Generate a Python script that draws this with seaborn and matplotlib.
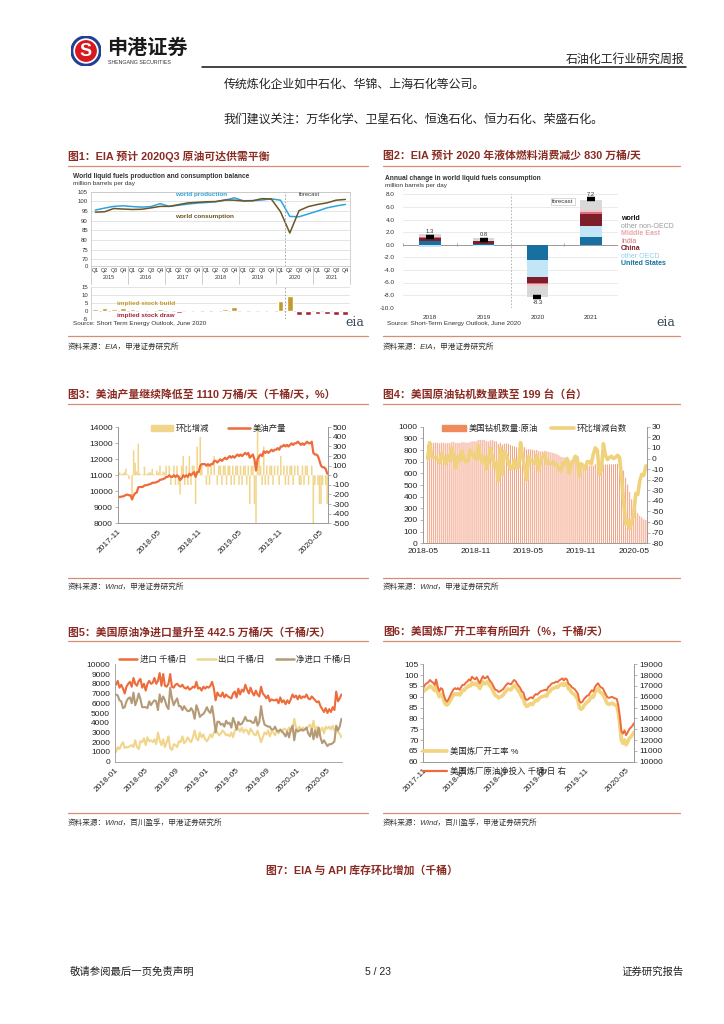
import numpy as np
import pandas as pd
import matplotlib
matplotlib.use("Agg")
import matplotlib.pyplot as plt
import matplotlib.dates as mdates
from matplotlib.lines import Line2D
from matplotlib.patches import Patch, Circle
from matplotlib.transforms import blended_transform_factory
import seaborn as sns

sns.set_style("white")
plt.rcParams["font.family"] = ["Liberation Sans", "Noto Sans CJK SC", "DejaVu Sans"]
plt.rcParams["axes.unicode_minus"] = False

# ---------------- data ----------------
# fig1: EIA world balance, quarterly 2015Q1 - 2021Q4
quarter_names = ["Q1", "Q2", "Q3", "Q4"]
eia_years = ["2015", "2016", "2017", "2018", "2019", "2020", "2021"]
world_prod = [95.5, 96.5, 97.4, 97.7, 97.3, 97.0, 97.3, 98.8, 97.4, 98.0, 98.6, 99.1,
              99.4, 99.8, 100.6, 101.8, 100.3, 100.4, 100.7, 101.3, 100.6, 92.2, 92.0, 93.5,
              95.0, 96.6, 97.6, 98.4]
world_cons = [94.4, 94.6, 96.3, 96.0, 95.8, 95.9, 96.6, 97.4, 97.4, 98.3, 99.2, 99.5,
              99.8, 99.9, 100.7, 100.6, 100.2, 100.3, 101.4, 101.2, 94.6, 83.6, 95.2, 97.3,
              98.4, 99.2, 100.6, 101.0]
stock_change = [1.2, 1.6, 1.0, 1.5, 1.3, 0.3, 0.1, 1.3, 0.1, -1.2, -0.7, -0.5,
                0.0, 0.3, 0.8, 2.2, 0.3, 0.1, -1.1, 0.4, 6.3, 9.0, -2.8, -2.9,
                -2.3, -1.9, -2.7, -2.7]

# fig2: annual change in consumption
cons_years = ["2018", "2019", "2020", "2021"]
world_change = [1.3, 0.8, -8.3, 7.2]
chg_us = [0.55, 0.05, -2.4, 1.3]
chg_other_oecd = [-0.3, -0.25, -2.8, 1.6]
chg_china = [0.45, 0.5, -0.8, 1.9]
chg_india = [0.15, 0.1, -0.3, 0.4]
chg_mideast = [-0.1, 0.0, -0.2, 0.3]
chg_other_non = [0.55, 0.4, -1.8, 1.6]

# fig3: US crude production, weekly from 2017-11-03 (kb/d)
us_prod = [9620, 9650, 9660, 9680,
           9710, 9780, 9790, 9750, 9750,
           9490, 9750, 9880, 9920,
           10250, 10270, 10270, 10280,
           10370, 10380, 10400, 10430, 10460,
           10530, 10540, 10540, 10590,
           10620, 10720, 10730, 10770,
           10800, 10900, 10900, 11000, 10900,
           10900, 11000, 10900, 11000,
           10900, 10700, 10800, 11000, 10900,
           11000, 10900, 11100, 11000,
           11100, 11200, 10900, 11200,
           11200, 11600, 11700, 11700, 11700,
           11600, 11700, 11600, 11700,
           11700, 11900, 11900, 11800,
           11900, 12000, 11900, 12000,
           12100, 12000, 12100, 12200, 12100,
           12200, 12100, 12200, 12300,
           12200, 12300, 12200, 12300, 12400,
           12300, 12400, 12100, 12200,
           12300, 12000, 11300, 12000,
           12200, 12300, 12200, 12500, 12400,
           12500, 12400, 12500, 12600,
           12500, 12600, 12600, 12700,
           12600, 12800, 12800, 12900, 12800,
           12900, 12800, 12900, 13000,
           12900, 13000, 13000, 13100, 13000,
           12900, 13000, 12900, 13000,
           13100, 13000, 13000, 13100,
           12400, 12300, 12300, 12200,
           11900, 11600, 11500, 11500, 11400,
           11100]

# fig4: US oil rig count, weekly from 2018-05-11
oil_rigs = [844, 844, 859,
            861, 862, 863, 862, 858,
            863, 863, 858, 861,
            859, 869, 869, 860, 862,
            860, 867, 866, 863,
            861, 869, 873, 875,
            874, 886, 888, 885, 887,
            877, 873, 883, 885,
            877, 873, 852, 862,
            847, 854, 857, 853,
            843, 834, 833, 824, 816,
            831, 833, 825, 805,
            807, 805, 802, 797, 800,
            789, 788, 789, 793,
            788, 784, 779, 776,
            770, 764, 754, 742, 738,
            733, 733, 719, 713,
            710, 712, 713, 696,
            691, 684, 674, 671, 668,
            663, 667, 677, 685,
            670, 659, 673, 676, 675,
            676, 678, 678, 679,
            682, 683, 664, 624,
            562, 504, 438, 378,
            325, 292, 258, 237, 222,
            206, 199]

# fig5: US crude imports / exports, weekly from 2018-01-05 (kb/d)
crude_imports = [7900, 8300, 7600, 7900,
                 7500, 7000, 7700, 8000,
                 8200, 7700, 8600, 8000, 7800,
                 8300, 8500, 7600, 8000,
                 7300, 8000, 8300, 8000,
                 8100, 8600, 8000, 8300, 9100,
                 7800, 9000, 7800, 7700,
                 8000, 9000, 7700, 7600, 7900,
                 8000, 7800, 7700, 7900,
                 7600, 7500, 7700, 7400,
                 7500, 7700, 7600, 8200, 7500,
                 7600, 7300, 7700, 7500,
                 7700, 7600, 7800, 8200,
                 7500, 6300, 7100, 6800,
                 6700, 7100, 6600, 6900, 6700,
                 6600, 6500, 7000, 7200,
                 6600, 7500, 6900, 7400, 7200,
                 7900, 7400, 7000, 7600,
                 7100, 6800, 7300, 6900,
                 6700, 7700, 7000, 6800, 6500,
                 6800, 6200, 6400, 6300,
                 6300, 6400, 6000, 6600,
                 6100, 6300, 5900, 6300, 6000,
                 6400, 6900, 6600, 6800,
                 6400, 6800, 6500, 6700, 6600,
                 6900, 6500, 6400, 6700,
                 6500, 6300, 6100, 6200,
                 5700, 5400, 5100, 5500,
                 5000, 5400, 5100, 5600, 5300,
                 7200, 6200, 6500, 6900]
crude_exports = [1000, 1500, 1300, 1700,
                 2000, 1400, 1500, 1500,
                 1600, 1700, 1500, 2200, 1500,
                 1300, 2100, 2000, 2400,
                 1700, 2500, 2100, 2200,
                 2000, 2300, 1800, 3000, 2200,
                 1700, 2300, 1500, 2000,
                 2600, 1400, 1200, 1800, 1700,
                 1500, 2100, 2000, 2600,
                 1900, 2100, 2500, 2200,
                 2000, 2500, 3200, 2400, 2200,
                 3000, 2500, 2800, 2300,
                 2100, 2400, 2800, 2500,
                 3000, 3300, 3000, 2700,
                 2900, 3200, 3000, 2700, 2800,
                 2600, 3000, 2500, 3200,
                 3300, 3400, 3100, 3500, 3000,
                 3300, 3200, 2800, 3400,
                 3100, 2800, 2700, 3200,
                 2600, 2000, 2500, 3000, 2800,
                 3200, 2600, 3100, 3000,
                 2700, 3200, 2900, 3300,
                 3000, 3400, 3300, 3200, 3500,
                 3100, 3200, 4400, 3500,
                 3300, 3600, 3200, 3500, 3300,
                 3400, 3600, 3800, 3300,
                 4200, 3100, 3600, 2700,
                 3200, 3500, 2900, 3600,
                 3400, 3600, 3300, 3700, 3200,
                 3500, 3000, 2900, 2500]

# fig6: refinery utilisation (%) and crude input (kb/d), weekly from 2017-11-03
refinery_util = [92.5, 93.2, 93.8, 94.2,
                 95.0, 94.5, 93.8, 92.8, 95.4,
                 91.8, 90.0, 91.2, 90.8,
                 88.0, 86.5, 86.2, 87.0,
                 88.2, 89.5, 90.6, 91.4, 91.0,
                 91.4, 90.8, 91.8, 93.0,
                 93.0, 94.0, 94.4, 95.2,
                 95.0, 96.6, 95.9, 95.5, 96.4,
                 95.0, 93.8, 95.4, 96.9,
                 96.0, 96.2, 97.0, 95.5, 94.6,
                 93.6, 91.8, 90.6, 90.3,
                 89.5, 89.8, 90.2, 90.8,
                 91.8, 92.8, 93.6, 93.4, 93.2,
                 94.2, 95.3, 94.8, 93.5,
                 92.5, 91.4, 89.8, 89.2,
                 86.6, 85.6, 85.8, 86.6,
                 86.9, 86.4, 87.6, 88.4, 88.2,
                 89.0, 89.8, 90.0, 90.3,
                 90.6, 90.3, 91.9, 92.4, 93.5,
                 93.8, 94.1, 94.6, 94.3,
                 95.1, 95.6, 96.1, 95.2,
                 96.1, 95.6, 93.6, 93.1, 92.0,
                 91.4, 90.9, 89.8, 88.7,
                 85.0, 84.2, 84.7, 86.0,
                 86.8, 87.6, 87.9, 89.2, 90.3,
                 89.8, 91.9, 93.0, 93.8,
                 92.5, 91.7, 91.4, 89.8, 88.2,
                 86.8, 86.5, 86.8, 87.1,
                 86.5, 86.2, 86.0, 82.7,
                 77.0, 69.8, 68.5, 70.1,
                 67.8, 69.1, 70.7, 71.5, 72.3,
                 73.6]
refinery_input = [16900, 17150, 17250, 17350,
                  17550, 17400, 17300, 17100, 17600,
                  16900, 16500, 16800, 16700,
                  16100, 15700, 15550, 15800,
                  16100, 16400, 16650, 16800, 16700,
                  16800, 16650, 16900, 17100,
                  17100, 17300, 17400, 17600,
                  17500, 17850, 17700, 17600, 17800,
                  17500, 17250, 17600, 17900,
                  17700, 17750, 17900, 17600, 17400,
                  17200, 16900, 16650, 16600,
                  16450, 16500, 16600, 16700,
                  16900, 17100, 17250, 17200, 17150,
                  17350, 17550, 17450, 17200,
                  17000, 16800, 16500, 16400,
                  15900, 15700, 15750, 15900,
                  15950, 15850, 16100, 16250, 16200,
                  16350, 16500, 16550, 16600,
                  16650, 16600, 16900, 17000, 17200,
                  17250, 17300, 17400, 17350,
                  17500, 17600, 17700, 17500,
                  17700, 17600, 17200, 17100, 16900,
                  16800, 16700, 16500, 16300,
                  15600, 15450, 15550, 15800,
                  15950, 16100, 16150, 16400, 16600,
                  16500, 16900, 17100, 17250,
                  17000, 16850, 16800, 16500, 16200,
                  15950, 15900, 15950, 16000,
                  15900, 15850, 15800, 15200,
                  14150, 12800, 12600, 12900,
                  12450, 12700, 13000, 13150, 13300,
                  13550]

# ---------------- page helpers ----------------
W, H = 724, 1024
fig = plt.figure(figsize=(W / 100, H / 100), dpi=100)

def fb(x0, y0, x1, y1):
    return [x0 / W, 1 - y1 / H, (x1 - x0) / W, (y1 - y0) / H]

def ft(x, y, s, **kw):
    kw.setdefault("va", "center")
    return fig.text(x / W, 1 - y / H, s, **kw)

def hline(x0, x1, y, **kw):
    fig.add_artist(Line2D([x0 / W, x1 / W], [1 - y / H] * 2, **kw))

TITLE_C = "#8a2b23"
RULE_C = "#d98c74"
ORANGE = "#ee6b3b"
GOLD = "#f1d58b"
AX_C = "#9a9a9a"

# header
logo = fig.add_axes(fb(71, 36, 101, 66))
logo.set_xlim(-1, 1); logo.set_ylim(-1, 1); logo.set_aspect("equal"); logo.axis("off")
logo.add_patch(Circle((0, 0), 1.0, color="#1f3f94"))
logo.add_patch(Circle((0, 0), 0.80, color="white"))
logo.add_patch(Circle((0, 0), 0.68, color="#d7191f"))
logo.text(0, -0.05, "S", color="white", fontsize=13, fontweight="bold", ha="center", va="center")
ft(107, 48, "申港证券", fontsize=14.5, fontweight="bold", color="#1a1a1a")
ft(108, 63, "SHENGANG SECURITIES", fontsize=3.8, color="#333333")
ft(684, 60, "石油化工行业研究周报", fontsize=8.6, color="#222222", ha="right")
hline(202, 686, 67, color="#111111", lw=1.1)

ft(224, 85, "传统炼化企业如中石化、华锦、上海石化等公司。", fontsize=8.6, color="#222222")
ft(224, 120, "我们建议关注：万华化学、卫星石化、恒逸石化、恒力石化、荣盛石化。", fontsize=8.6, color="#222222")

titles = [(68, 156, "图1：EIA 预计 2020Q3 原油可达供需平衡"),
          (383, 156, "图2：EIA 预计 2020 年液体燃料消费减少 830 万桶/天"),
          (68, 395, "图3：美油产量继续降低至 1110 万桶/天（千桶/天，%）"),
          (383, 395, "图4：美国原油钻机数量跌至 199 台（台）"),
          (68, 632, "图5：美国原油净进口量升至 442.5 万桶/天（千桶/天）"),
          (383, 632, "图6：美国炼厂开工率有所回升（%，千桶/天）")]
for x, y, s in titles:
    ft(x, y, s, fontsize=7.8, fontweight="bold", color=TITLE_C)
for y in (166, 404, 641, 336, 578, 813):
    hline(68, 368, y, color=RULE_C, lw=0.9)
    hline(383, 680, y, color=RULE_C, lw=0.9)
sources = [(347, "资料来源：EIA，申港证券研究所", "资料来源：EIA，申港证券研究所"),
           (587, "资料来源：Wind，申港证券研究所", "资料来源：Wind，申港证券研究所"),
           (823, "资料来源：Wind，百川盈孚，申港证券研究所", "资料来源：Wind，百川盈孚，申港证券研究所")]
for y, s1, s2 in sources:
    ft(68, y, s1, fontsize=5.5, color="#333333", style="italic")
    ft(383, y, s2, fontsize=5.5, color="#333333", style="italic")

ft(362, 870, "图7：EIA 与 API 库存环比增加（千桶）", fontsize=7.8, fontweight="bold",
   color=TITLE_C, ha="center")
ft(70, 972, "敬请参阅最后一页免责声明", fontsize=7.5, color="#222222")
ft(378, 972, "5 / 23", fontsize=7.5, color="#222222", ha="center")
ft(684, 972, "证券研究报告", fontsize=7.5, color="#222222", ha="right")

# ---------------- fig1 ----------------
ft(73, 177, "World liquid fuels production and consumption balance", fontsize=4.8,
   fontweight="bold", color="#333333")
ft(73, 184, "million barrels per day", fontsize=4.6, color="#333333")
ft(73, 323, "Source: Short Term Energy Outlook, June 2020", fontsize=4.6, color="#333333")
ft(345, 322, "eia", fontsize=9, color="#3a4a5a", family="DejaVu Serif")

qx = np.arange(len(world_prod))
ax1 = fig.add_axes(fb(90.7, 191.7, 350, 266))
sns.lineplot(x=qx, y=world_prod, ax=ax1, color="#2ea3dd", lw=1.1)
sns.lineplot(x=qx, y=world_cons, ax=ax1, color="#6b5626", lw=1.1)
ax1.set_xlim(-0.5, 27.5)
ax1.set_ylim(66.5, 105)
ax1.set_yticks([66.5, 70, 75, 80, 85, 90, 95, 100, 105])
ax1.set_yticklabels(["0", "70", "75", "80", "85", "90", "95", "100", "105"])
ax1.yaxis.grid(True, color="#d9d9d9", lw=0.5)
ax1.tick_params(axis="y", length=0, labelsize=4.3, pad=2, labelcolor="#333333")
ax1.set_xticks(qx)
ax1.set_xticklabels(quarter_names * len(eia_years))
ax1.tick_params(axis="x", which="major", length=0, labelsize=3.9, pad=1.5, labelcolor="#333333")
ax1.set_xticks(np.arange(-0.5, 28, 1), minor=True)
ax1.tick_params(axis="x", which="minor", length=4, width=0.4, color="#aaaaaa")
for sp in ax1.spines.values():
    sp.set_color("#bfbfbf"); sp.set_linewidth(0.5)
ax1.axvline(20.5, color="#999999", ls=(0, (2, 2)), lw=0.6)
tr1 = blended_transform_factory(ax1.transData, ax1.transAxes)
for k, yr in enumerate(eia_years):
    ax1.text(4 * k + 1.5, -0.16, yr, transform=tr1, ha="center", va="center", fontsize=3.9,
             color="#333333")
for k in range(len(eia_years) + 1):
    ax1.plot([4 * k - 0.5] * 2, [0, -0.24], transform=tr1, clip_on=False, color="#aaaaaa", lw=0.4)
ax1.text(8.6, 103.4, "world production", color="#2ea3dd", fontsize=4.6, fontweight="bold",
         va="center")
ax1.text(8.6, 92.3, "world consumption", color="#6b5626", fontsize=4.6, fontweight="bold",
         va="center")
ax1.text(22.0, 103.6, "forecast", color="#333333", fontsize=4.2, va="center")
ax1.set_xlabel(""); ax1.set_ylabel("")

ax1b = fig.add_axes(fb(90.7, 286.7, 350, 318.7))
bar_cols = ["#c49a2c" if v >= 0 else "#a4243b" for v in stock_change]
ax1b.bar(qx, stock_change, width=0.62, color=bar_cols, zorder=3)
ax1b.set_xlim(-0.5, 27.5)
ax1b.set_ylim(-5, 15)
ax1b.set_yticks([-5, 0, 5, 10, 15])
ax1b.set_xticks([])
ax1b.yaxis.grid(True, color="#d9d9d9", lw=0.5)
ax1b.tick_params(axis="y", length=0, labelsize=4.3, pad=2, labelcolor="#333333")
for name, sp in ax1b.spines.items():
    sp.set_visible(name == "left")
    sp.set_color("#bfbfbf"); sp.set_linewidth(0.5)
ax1b.axvline(20.5, color="#999999", ls=(0, (2, 2)), lw=0.6)
ax1b.text(2.3, 4.8, "implied stock build", color="#c49a2c", fontsize=4.6, fontweight="bold",
          va="center")
ax1b.text(2.3, -3.1, "implied stock draw", color="#a4243b", fontsize=4.6, fontweight="bold",
          va="center")

# ---------------- fig2 ----------------
ft(385, 179, "Annual change in world liquid fuels consumption", fontsize=4.8,
   fontweight="bold", color="#333333")
ft(385, 186, "million barrels per day", fontsize=4.6, color="#333333")
ft(387, 324, "Source: Short-Term Energy Outlook, June 2020", fontsize=4.6, color="#333333")
ft(656, 322, "eia", fontsize=9, color="#3a4a5a", family="DejaVu Serif")

ax2 = fig.add_axes(fb(403, 194.3, 618, 307.7))
cx = np.arange(len(cons_years))
parts = [(chg_us, "#17709f"), (chg_other_oecd, "#c3e6f7"), (chg_china, "#7c1f2b"),
         (chg_india, "#d9707c"), (chg_mideast, "#f3c3c8"), (chg_other_non, "#d9d9d9")]
pos_base = np.zeros(len(cx))
neg_base = np.zeros(len(cx))
for vals, col in parts:
    vals = np.array(vals)
    p = np.where(vals > 0, vals, 0)
    n = np.where(vals < 0, vals, 0)
    ax2.bar(cx, p, bottom=pos_base, width=0.4, color=col, zorder=3, lw=0)
    ax2.bar(cx, n, bottom=neg_base, width=0.4, color=col, zorder=3, lw=0)
    pos_base += p
    neg_base += n
ax2.plot(cx, world_change, ls="none", marker="_", ms=6, mew=3.2, color="black", zorder=5)
for i, v in enumerate(world_change):
    off = 0.75 if v > 0 else -0.95
    ax2.text(i, v + off, f"{v:.1f}", ha="center", va="center", fontsize=4.2, color="#333333")
ax2.set_xlim(-0.5, 3.5)
ax2.set_ylim(-10, 8)
ax2.set_yticks(np.arange(-10, 9, 2))
ax2.set_yticklabels([f"{v:.1f}" for v in np.arange(-10, 9, 2)])
ax2.set_xticks(cx)
ax2.set_xticklabels(cons_years)
ax2.yaxis.grid(True, color="#e3e3e3", lw=0.5)
ax2.tick_params(axis="both", length=0, labelsize=4.6, labelcolor="#333333")
ax2.tick_params(axis="x", pad=5)
ax2.tick_params(axis="y", pad=6)
for sp in ax2.spines.values():
    sp.set_visible(False)
ax2.axhline(0, color="#9a9a9a", lw=0.7, zorder=2)
ax2.vlines([-0.5, 0.5, 1.5, 2.5, 3.5], -0.25, 0.25, color="#9a9a9a", lw=0.6)
ax2.axvline(1.5, color="#aaaaaa", ls=(0, (2, 2)), lw=0.6)
ax2.text(2.28, 6.9, "forecast", fontsize=4.3, color="#333333", va="center",
         bbox=dict(facecolor="white", edgecolor="#bbbbbb", lw=0.4, pad=0.8))
legend2 = [("world", "#111111", "bold"), ("other non-OECD", "#9a9a9a", "normal"),
           ("Middle East", "#eaa5ad", "bold"), ("India", "#d9707c", "normal"),
           ("China", "#7c1f2b", "bold"), ("other OECD", "#8fcdec", "normal"),
           ("United States", "#17709f", "bold")]
for k, (s, c, w) in enumerate(legend2):
    ft(621, 219 + 7.45 * k, s, fontsize=5, color=c, fontweight=w)

# ---------------- fig3 ----------------
def wind_axes(ax, right=None):
    ax.spines["top"].set_visible(False)
    for sp in ("left", "bottom", "right"):
        ax.spines[sp].set_color(AX_C); ax.spines[sp].set_linewidth(0.6)
    if right is None:
        ax.spines["right"].set_visible(False)
    ax.tick_params(axis="both", direction="out", length=2, width=0.5, color=AX_C,
                   labelsize=6, labelcolor="#222222", pad=1.5)
    ax.set_xlabel(""); ax.set_ylabel("")

def date_ticks(ax, ticks, rot=45):
    t = pd.to_datetime(ticks)
    ax.set_xticks(t)
    ax.xaxis.set_major_formatter(mdates.DateFormatter("%Y-%m"))
    if rot:
        for lab in ax.get_xticklabels():
            lab.set_rotation(rot); lab.set_ha("right"); lab.set_rotation_mode("anchor")

dates3 = pd.date_range("2017-11-03", periods=len(us_prod), freq="7D")
prod_chg = np.diff(np.array(us_prod), prepend=us_prod[0])
ax3 = fig.add_axes(fb(117.7, 427.3, 327.7, 523.3))
ax3b = ax3.twinx()
ax3b.bar(dates3, prod_chg, width=7.0, color=GOLD, lw=0, snap=False)
sns.lineplot(x=dates3, y=us_prod, ax=ax3, color=ORANGE, lw=1.6)
ax3.set_zorder(ax3b.get_zorder() + 1)
ax3.patch.set_visible(False)
ax3.set_ylim(8000, 14000)
ax3.set_yticks(np.arange(8000, 14001, 1000))
ax3b.set_ylim(-500, 500)
ax3b.set_yticks(np.arange(-500, 501, 100))
ax3.set_xlim(pd.Timestamp("2017-11-01"), pd.Timestamp("2020-06-07"))
wind_axes(ax3, right=True)
wind_axes(ax3b, right=True)
date_ticks(ax3, ["2017-11-01", "2018-05-01", "2018-11-01", "2019-05-01", "2019-11-01", "2020-05-01"])
ax3.legend([Patch(color=GOLD), Line2D([], [], color=ORANGE, lw=1.8)], ["环比增减", "美油产量"],
           loc="center", bbox_to_anchor=(0.48, 0.985), ncol=2, frameon=False, fontsize=6,
           handlelength=2.7, columnspacing=2.2, handletextpad=0.3)

# ---------------- fig4 ----------------
dates4 = pd.date_range("2018-05-11", periods=len(oil_rigs), freq="7D")
rig_chg = np.diff(np.array(oil_rigs))
ax4 = fig.add_axes(fb(422.7, 426.7, 646.7, 543.3))
ax4b = ax4.twinx()
ax4.bar(dates4[1:], oil_rigs[1:], width=3.5, color="#f4a183", lw=0, snap=False)
sns.lineplot(x=dates4[1:], y=rig_chg, ax=ax4b, color="#f1d27c", lw=2.6)
ax4.set_ylim(0, 1000)
ax4.set_yticks(np.arange(0, 1001, 100))
ax4b.set_ylim(-80, 30)
ax4b.set_yticks(np.arange(-80, 31, 10))
ax4.set_xlim(pd.Timestamp("2018-05-01"), pd.Timestamp("2020-06-15"))
wind_axes(ax4, right=True)
wind_axes(ax4b, right=True)
date_ticks(ax4, ["2018-05-01", "2018-11-01", "2019-05-01", "2019-11-01", "2020-05-01"], rot=0)
ax4b.legend([Patch(color="#f08a5d"), Line2D([], [], color="#f1d27c", lw=2.6)],
            ["美国钻机数量:原油", "环比增减台数"], loc="center", bbox_to_anchor=(0.5, 0.985),
            ncol=2, frameon=False, fontsize=6, handlelength=2.8, columnspacing=1.6,
            handletextpad=0.3)

# ---------------- fig5 ----------------
dates5 = pd.date_range("2018-01-05", periods=len(crude_imports), freq="7D")
net_imports = np.array(crude_imports) - np.array(crude_exports)
ax5 = fig.add_axes(fb(115, 664.3, 341.7, 761.7))
sns.lineplot(x=dates5, y=crude_imports, ax=ax5, color=ORANGE, lw=1.5)
sns.lineplot(x=dates5, y=crude_exports, ax=ax5, color="#f1d58b", lw=1.5)
sns.lineplot(x=dates5, y=net_imports, ax=ax5, color="#b49a76", lw=1.5)
ax5.set_ylim(0, 10000)
ax5.set_yticks(np.arange(0, 10001, 1000))
ax5.set_xlim(pd.Timestamp("2018-01-01"), pd.Timestamp("2020-06-27"))
wind_axes(ax5)
date_ticks(ax5, ["2018-01-01", "2018-05-01", "2018-09-01", "2019-01-01", "2019-05-01",
                 "2019-09-01", "2020-01-01", "2020-05-01"])
ax5.legend([Line2D([], [], color=ORANGE, lw=1.8), Line2D([], [], color="#f1d58b", lw=1.8),
            Line2D([], [], color="#b49a76", lw=1.8)],
           ["进口 千桶/日", "出口 千桶/日", "净进口 千桶/日"], loc="center",
           bbox_to_anchor=(0.53, 1.045), ncol=3, frameon=False, fontsize=6,
           handlelength=2.2, columnspacing=1.3, handletextpad=0.3)

# ---------------- fig6 ----------------
dates6 = pd.date_range("2017-11-03", periods=len(refinery_util), freq="7D")
ax6 = fig.add_axes(fb(423.3, 664.3, 634.3, 761.7))
ax6b = ax6.twinx()
sns.lineplot(x=dates6, y=refinery_util, ax=ax6, color="#f2d47e", lw=2.6)
sns.lineplot(x=dates6, y=refinery_input, ax=ax6b, color=ORANGE, lw=1.4)
ax6.set_ylim(60, 105)
ax6.set_yticks(np.arange(60, 106, 5))
ax6b.set_ylim(10000, 19000)
ax6b.set_yticks(np.arange(10000, 19001, 1000))
ax6.set_xlim(pd.Timestamp("2017-11-01"), pd.Timestamp("2020-06-07"))
wind_axes(ax6, right=True)
wind_axes(ax6b, right=True)
date_ticks(ax6, ["2017-11-01", "2018-05-01", "2018-11-01", "2019-05-01", "2019-11-01", "2020-05-01"])
ax6b.legend([Line2D([], [], color="#f2d47e", lw=2.6), Line2D([], [], color=ORANGE, lw=1.6)],
            ["美国炼厂开工率 %", "美国炼厂原油净投入 千桶/日 右"], loc="upper left",
            bbox_to_anchor=(0.0, 0.145), frameon=False, fontsize=6, handlelength=2.9,
            handletextpad=0.3, labelspacing=1.4, borderaxespad=0, borderpad=0)

fig.savefig("out.png", dpi=100)
